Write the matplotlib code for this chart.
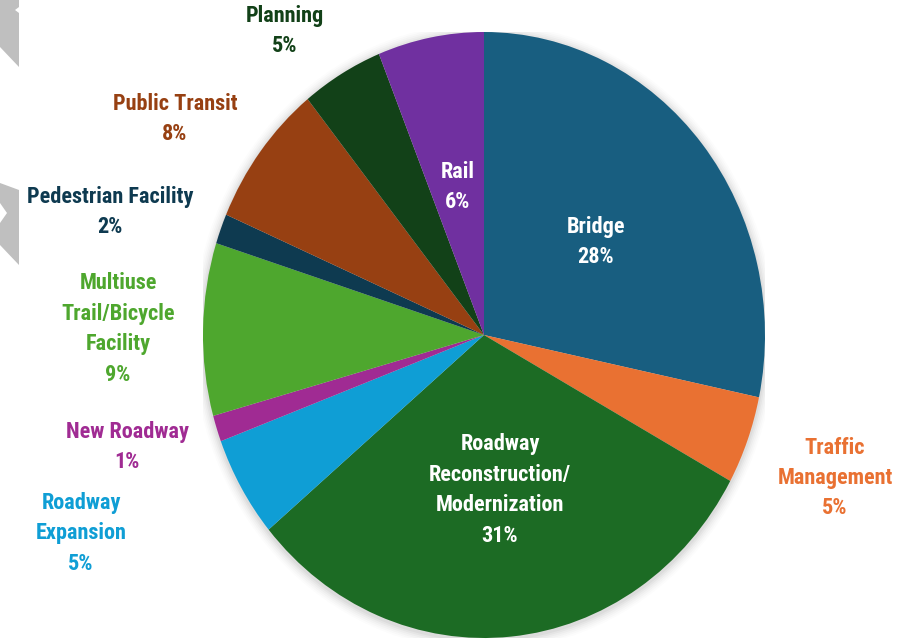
import matplotlib
matplotlib.use("Agg")
import matplotlib.pyplot as plt
from matplotlib.patches import Ellipse, Polygon

categories = ["Bridge", "Traffic\nManagement", "Roadway\nReconstruction/\nModernization",
              "Roadway\nExpansion", "New Roadway", "Multiuse\nTrail/Bicycle\nFacility",
              "Pedestrian Facility", "Public Transit", "Planning", "Rail"]
values = [28.3, 4.7, 30.9, 5.4, 1.4, 9.2, 1.6, 7.7, 4.7, 6.1]
colors = ["#185E80", "#E97132", "#1C6B24", "#0F9ED5", "#A02B93",
          "#4EA72E", "#0E3A50", "#974012", "#124118", "#7030A0"]
label_colors = ["white", "#E97132", "white", "#0F9ED5", "#A02B93",
                "#4EA72E", "#0E3A50", "#974012", "#124118", "white"]
# label block centres in pixels (x from left, y from top)
label_pos = [(596, 242), (835, 478), (500, 490), (81, 533), (127, 447),
             (118, 329), (110, 212), (175, 119), (285, 31), (458, 187)]

W, H = 918, 642
fig = plt.figure(figsize=(W / 100, H / 100), dpi=100)
fig.patch.set_facecolor("white")

# decorative grey shapes on left edge (figure pixel coords)
def px(pts):
    return [(x / W, 1 - y / H) for x, y in pts]

for pts in ([(0, 0), (19, 0), (19, 7), (15, 10), (19, 13), (19, 67), (0, 47)],
            [(0, 183), (19, 190), (19, 265), (0, 245), (0, 223), (7, 213), (0, 203)]):
    fig.patches.append(Polygon(px(pts), closed=True, transform=fig.transFigure,
                               facecolor="#BFBFBF", edgecolor="none"))

cx, cy, rx, ry = 484, 335, 281, 303
ax = fig.add_axes([(cx - rx) / W, (H - cy - ry) / H, 2 * rx / W, 2 * ry / H])

# soft shadow
for i, a in enumerate([0.035, 0.03, 0.025, 0.02, 0.015, 0.01]):
    s = 1.0 + 0.006 * (i + 1)
    ax.add_patch(Ellipse((0, -0.006), 2 * s, 2 * s, facecolor="black",
                         edgecolor="none", alpha=a, zorder=0))

wedges, _ = ax.pie(values, colors=colors, startangle=90, counterclock=False,
                   radius=1.0, wedgeprops=dict(linewidth=0))
for w in wedges:
    w.set_zorder(2)
ax.set_aspect("auto")
ax.set_xlim(-1, 1)
ax.set_ylim(-1, 1)
ax.axis("off")

total = sum(values)
fam = ["Roboto Condensed", "Roboto", "DejaVu Sans"]
for cat, v, c, (x, y) in zip(categories, values, label_colors, label_pos):
    txt = f"{cat}\n{round(v / total * 100)}%"
    fig.text(x / W, 1 - y / H, txt, ha="center", va="center", color=c,
             fontsize=16, fontweight="bold", family=fam, linespacing=1.5)

fig.savefig("out.png", dpi=100, facecolor="white")
